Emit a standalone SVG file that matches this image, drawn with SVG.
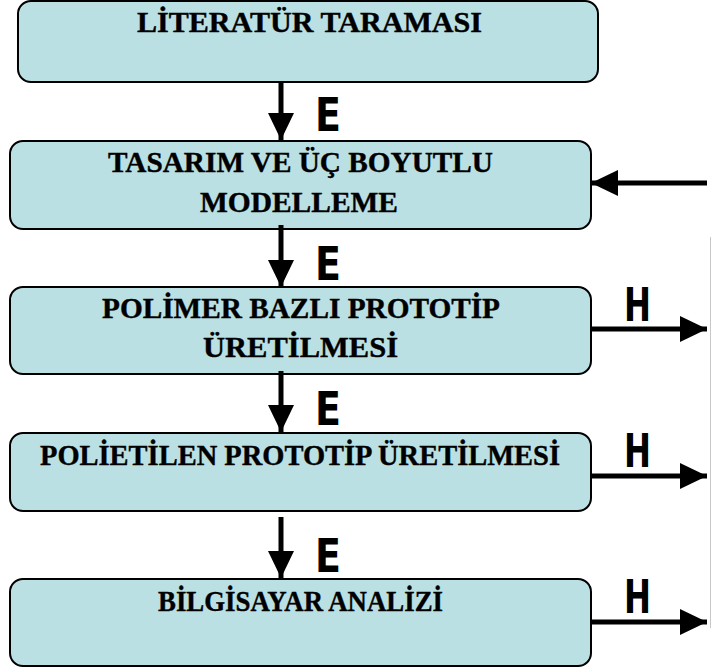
<svg xmlns="http://www.w3.org/2000/svg" width="712" height="672" viewBox="0 0 712 672">
<style>
.box{fill:#bae0e4;stroke:#000;stroke-width:2}
.t{font-family:"Liberation Serif","Times New Roman",serif;font-weight:bold;font-size:29px;fill:#000;stroke:#000;stroke-width:0.4;text-anchor:middle}
.lbl{font-family:"DejaVu Sans",sans-serif;font-weight:bold;font-size:46px;fill:#000}
.c{stroke:#000;stroke-width:5;fill:none;marker-end:url(#ah)}
</style>
<defs>
<marker id="ah" markerUnits="userSpaceOnUse" markerWidth="27" markerHeight="26" refX="27" refY="13" orient="auto">
<path d="M0,0 L27,13 L0,26 z" fill="#000"/>
</marker>
</defs>
<rect width="712" height="672" fill="#fff"/>
<line x1="710.5" y1="237" x2="710.5" y2="628" stroke="#c8c8c8" stroke-width="1"/>
<g id="n1">
<rect class="box" x="18" y="1" width="580" height="81" rx="13"/>
<text class="t" x="309.5" y="32" textLength="345" lengthAdjust="spacingAndGlyphs">LİTERATÜR TARAMASI</text>
</g>
<g id="n2">
<rect class="box" x="10" y="141" width="581" height="88" rx="13"/>
<text class="t" x="300.5" y="172" textLength="385" lengthAdjust="spacingAndGlyphs">TASARIM VE ÜÇ BOYUTLU</text>
<text class="t" x="299" y="212" textLength="198" lengthAdjust="spacingAndGlyphs">MODELLEME</text>
</g>
<g id="n3">
<rect class="box" x="10" y="287" width="581" height="87" rx="13"/>
<text class="t" x="301" y="318" textLength="398" lengthAdjust="spacingAndGlyphs">POLİMER BAZLI PROTOTİP</text>
<text class="t" x="300.5" y="357" textLength="195" lengthAdjust="spacingAndGlyphs">ÜRETİLMESİ</text>
</g>
<g id="n4">
<rect class="box" x="10" y="433" width="581" height="78" rx="13"/>
<text class="t" x="300" y="465" textLength="520" lengthAdjust="spacingAndGlyphs">POLİETİLEN PROTOTİP ÜRETİLMESİ</text>
</g>
<g id="n5">
<rect class="box" x="10" y="579" width="581" height="87" rx="13"/>
<text class="t" x="300.5" y="611" textLength="285" lengthAdjust="spacingAndGlyphs">BİLGİSAYAR ANALİZİ</text>
</g>
<g id="connectors">
<line class="c" x1="281" y1="82" x2="281" y2="140"/>
<line class="c" x1="281" y1="225" x2="281" y2="287"/>
<line class="c" x1="281" y1="371" x2="281" y2="432"/>
<line class="c" x1="281" y1="517" x2="281" y2="578"/>
<line class="c" x1="707" y1="183" x2="591" y2="183"/>
<line class="c" x1="591" y1="329" x2="707" y2="329"/>
<line class="c" x1="591" y1="476" x2="707" y2="476"/>
<line class="c" x1="591" y1="622" x2="707" y2="622"/>
<text class="lbl" x="315" y="131" textLength="26" lengthAdjust="spacingAndGlyphs">E</text>
<text class="lbl" x="315" y="280" textLength="26" lengthAdjust="spacingAndGlyphs">E</text>
<text class="lbl" x="315" y="425" textLength="26" lengthAdjust="spacingAndGlyphs">E</text>
<text class="lbl" x="315" y="572" textLength="26" lengthAdjust="spacingAndGlyphs">E</text>
<text class="lbl" x="624" y="321" textLength="27" lengthAdjust="spacingAndGlyphs">H</text>
<text class="lbl" x="624" y="467" textLength="27" lengthAdjust="spacingAndGlyphs">H</text>
<text class="lbl" x="624" y="613" textLength="27" lengthAdjust="spacingAndGlyphs">H</text>
</g>
</svg>
